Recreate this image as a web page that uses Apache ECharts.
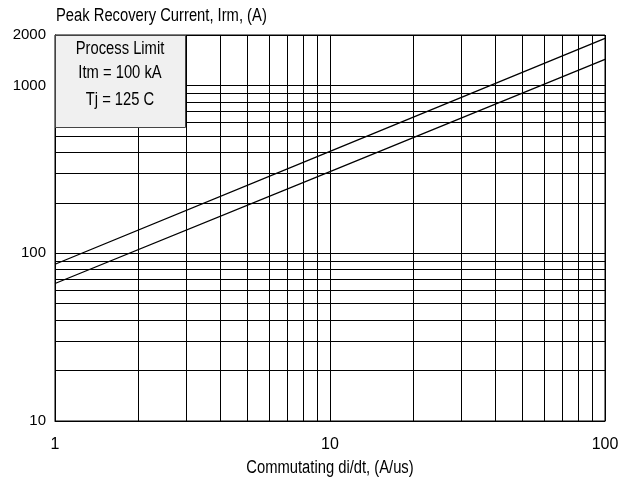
<!DOCTYPE html>
<html>
<head>
<meta charset="utf-8">
<script src="https://cdn.jsdelivr.net/npm/echarts@6/dist/echarts.min.js"></script>
<style>
  html, body { margin: 0; padding: 0; background: #fff; }
  #chart { width: 626px; height: 485px; }
</style>
</head>
<body>
<div id="chart"></div>
<script>
// Commutating di/dt (A/us) sample points
const diDt = [1, 10, 100];
// Peak recovery current (A) for the two limit curves
const irmUpper = [86, 405, 1910];
const irmLower = [66, 307, 1430];
// Minor log grid positions
const xMinorGrid = [2, 3, 4, 5, 6, 7, 8, 9, 20, 30, 40, 50, 60, 70, 80, 90];
const yMinorGrid = [20, 30, 40, 50, 60, 70, 80, 90, 200, 300, 400, 500, 600, 700, 800, 900];
// Axis ranges
const xRange = [1, 100];
const yRange = [10, 2000];
// Text of the condition box and axis titles
const boxLines = ['Process Limit', 'Itm = 100 kA', 'Tj = 125 C'];
const yTitle = 'Peak Recovery Current, Irm, (A)';
const xTitle = 'Commutating di/dt, (A/us)';

const FONT = '"Liberation Sans", Arial, sans-serif';
// horizontal squeeze that gives the titles a narrow, condensed look
const NARROW = 0.82;

const chart = echarts.init(document.getElementById('chart'), null, { renderer: 'canvas' });

const pairs = ys => diDt.map((x, i) => [x, ys[i]]);

const gridLineData = []
  .concat(xMinorGrid.map(v => ({ xAxis: v })))
  .concat(yMinorGrid.map(v => ({ yAxis: v })));

const narrowText = (text, x, y, align, size) => ({
  type: 'text', x: x, y: y, scaleX: NARROW, z: 100,
  style: {
    text: text, fill: '#000', fontSize: size, fontFamily: FONT,
    align: align, verticalAlign: 'middle'
  }
});

chart.setOption({
  animation: false,
  backgroundColor: '#fff',
  grid: {
    left: 55, right: 21, top: 35, bottom: 64,
    show: true, borderColor: '#000', borderWidth: 1
  },
  xAxis: {
    type: 'log', logBase: 10, min: xRange[0], max: xRange[1],
    axisLine: { show: true, lineStyle: { color: '#000', width: 1 } },
    axisTick: { show: false },
    axisLabel: {
      color: '#000', fontSize: 16, fontFamily: FONT, margin: 16,
      formatter: v => String(v)
    },
    splitLine: { show: true, lineStyle: { color: '#000', width: 1 } }
  },
  yAxis: {
    type: 'log', logBase: 10, min: yRange[0], max: yRange[1],
    axisLine: { show: true, lineStyle: { color: '#000', width: 1 } },
    axisTick: { show: false },
    axisLabel: {
      color: '#000', fontSize: 15, fontFamily: FONT, margin: 9,
      formatter: v => String(v)
    },
    splitLine: { show: true, lineStyle: { color: '#000', width: 1 } }
  },
  series: [
    {
      type: 'line', data: pairs(irmUpper), symbol: 'none', silent: true,
      lineStyle: { color: '#000', width: 1.3 },
      markLine: {
        silent: true, symbol: 'none', animation: false,
        label: { show: false },
        lineStyle: { color: '#000', width: 1, type: 'solid' },
        emphasis: { disabled: true },
        data: gridLineData
      }
    },
    {
      type: 'line', data: pairs(irmLower), symbol: 'none', silent: true,
      lineStyle: { color: '#000', width: 1.3 }
    }
  ],
  graphic: [
    {
      type: 'rect', x: 55, y: 35, z: 100,
      shape: { x: 0.5, y: 0.5, width: 130, height: 92 },
      style: { fill: '#f0f0f0', stroke: '#444', lineWidth: 1 }
    },
    narrowText(boxLines[0], 120, 49.5, 'center', 18),
    narrowText(boxLines[1], 120, 73, 'center', 18),
    narrowText(boxLines[2], 120, 100, 'center', 18),
    narrowText(yTitle, 56, 16, 'left', 18),
    narrowText(xTitle, 330, 468, 'center', 18)
  ]
});
</script>
</body>
</html>
